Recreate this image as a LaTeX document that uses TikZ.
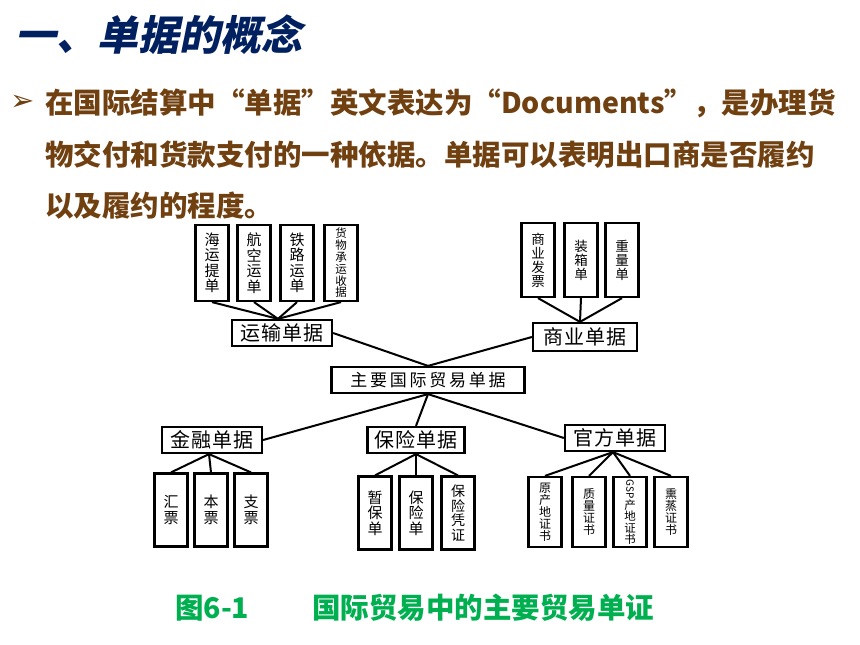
\documentclass[tikz,border=0pt]{standalone}
\usepackage{fontspec}
\newfontfamily\cjk{Noto Sans CJK SC}
\newfontfamily\cjkslant[FakeSlant=0.2]{Noto Sans CJK SC}
\newfontfamily\cjkwide[LetterSpace=16]{Noto Sans CJK SC}
\newfontfamily\cjkmid[LetterSpace=6]{Noto Sans CJK SC}
\newfontfamily\symb{DejaVu Sans}
\definecolor{titleblue}{RGB}{0,32,96}
\definecolor{textbrown}{RGB}{112,64,16}
\definecolor{capgreen}{RGB}{0,176,80}

\begin{document}
\begin{tikzpicture}[x=1pt,y=-1pt
,vbox/.style={draw,line width=2.2pt,minimum width=33pt,minimum height=75pt,inner sep=0pt,align=center,font=\cjk\fontsize{15}{15.5}\selectfont}
,hbox/.style={draw,line width=2.2pt,minimum width=100pt,minimum height=26pt,inner sep=0pt,font=\cjkmid\fontsize{20}{20}\selectfont}
,link/.style={line width=2pt}
,bodytext/.style={anchor=west,inner sep=0pt,text=textbrown,font=\cjk\bfseries\fontsize{28.5}{30}\selectfont}
]
\useasboundingbox (0,0) rectangle (860,645);
% heading and text
\node (title) at (15,35)[anchor=west,inner sep=0pt,text=titleblue,font=\cjkslant\bfseries\fontsize{41}{44}\selectfont]{一、单据的概念};
\node (bullet) at (10,103)[anchor=west,inner sep=0pt,text=textbrown,font=\symb\bfseries\fontsize{29}{30}\selectfont]{➢};
\node (line1) at (45,103)[bodytext]{在国际结算中“单据”英文表达为“Documents”，是办理货};
\node (line2) at (45,155)[bodytext]{物交付和货款支付的一种依据。单据可以表明出口商是否履约};
\node (line3) at (45,206)[bodytext]{以及履约的程度。};
% top left
\node (haiyun) at (212,263)[vbox,minimum height=76pt]{海\\运\\提\\单};
\node (hangkong) at (254,263)[vbox,minimum height=76pt]{航\\空\\运\\单};
\node (tielu) at (297,263)[vbox,minimum height=76pt]{铁\\路\\运\\单};
\node (huowu) at (341,263)[vbox,minimum height=76pt,font=\cjk\fontsize{11.5}{11.8}\selectfont]{货\\物\\承\\运\\收\\据};
\node (yunshu) at (282,333)[hbox]{运输单据};
% top right
\node (fapiao) at (538,260)[vbox,minimum height=74pt,font=\cjk\fontsize{13.5}{14}\selectfont]{商\\业\\发\\票};
\node (zhuangxiang) at (581,260)[vbox,minimum height=74pt,font=\cjk\fontsize{13.5}{14}\selectfont]{装\\箱\\单};
\node (zhongliang) at (622,260)[vbox,minimum height=74pt,font=\cjk\fontsize{13.5}{14}\selectfont]{重\\量\\单};
\node (shangye) at (585,337)[hbox,minimum width=104pt,minimum height=28pt]{商业单据};
% main
\node (main) at (428,380)[hbox,minimum width=193pt,font=\cjkwide\fontsize{17}{18}\selectfont]{主要国际贸易单据};
% bottom row
\node (jinrong) at (212,440)[hbox]{金融单据};
\node (baoxian) at (416,440)[hbox,minimum width=97pt]{保险单据};
\node (guanfang) at (615,438)[hbox]{官方单据};
\node (huipiao) at (171,510)[vbox,minimum height=73pt]{汇\\票};
\node (benpiao) at (211,510)[vbox,minimum height=73pt]{本\\票};
\node (zhipiao) at (251,510)[vbox,minimum height=73pt]{支\\票};
\node (zanbao) at (375,513)[vbox,minimum height=73pt]{暂\\保\\单};
\node (baodan) at (416,513)[vbox,minimum height=73pt]{保\\险\\单};
\node (pingzheng) at (458,513)[vbox,minimum height=73pt,font=\cjk\fontsize{14}{14.5}\selectfont]{保\\险\\凭\\证};
\node (yuanchan) at (545,512)[vbox,minimum height=70pt,font=\cjk\fontsize{12}{12}\selectfont]{原\\产\\地\\证\\书};
\node (zhiliang) at (589,512)[vbox,minimum height=70pt,font=\cjk\fontsize{12}{12}\selectfont]{质\\量\\证\\书};
\node (gsp) at (630,512)[vbox,minimum height=70pt,font=\cjk\fontsize{11.5}{11.5}\selectfont]{\rotatebox{-90}{\fontsize{10}{10}\selectfont GSP}\\产\\地\\证\\书};
\node (xunzheng) at (671,512)[vbox,minimum height=70pt,font=\cjk\fontsize{12}{12}\selectfont]{熏\\蒸\\证\\书};
% caption
\node (capnum) at (175,608)[anchor=west,inner sep=0pt,text=capgreen,font=\cjk\bfseries\fontsize{28.5}{30}\selectfont]{图6-1};
\node (captext) at (312,608)[anchor=west,inner sep=0pt,text=capgreen,font=\cjk\bfseries\fontsize{28.5}{30}\selectfont]{国际贸易中的主要贸易单证};
% connectors
\draw[link] (haiyun.south) -- ([xshift=-4pt]yunshu.north);
\draw[link] (hangkong.south) -- ([xshift=-4pt]yunshu.north);
\draw[link] (tielu.south) -- ([xshift=-4pt]yunshu.north);
\draw[link] (huowu.south) -- ([xshift=-4pt]yunshu.north);
\draw[link] (fapiao.south) -- ([xshift=-5pt]shangye.north);
\draw[link] (zhuangxiang.south) -- ([xshift=-5pt]shangye.north);
\draw[link] (zhongliang.south) -- ([xshift=-5pt]shangye.north);
\draw[link] (yunshu.east) -- (main.north);
\draw[link] (shangye.west) -- (main.north);
\draw[link] (main.south) -- (jinrong.east);
\draw[link] (main.south) -- (baoxian.north);
\draw[link] (main.south) -- (guanfang.west);
\draw[link] ([xshift=-3pt]jinrong.south) -- (huipiao.north);
\draw[link] ([xshift=-3pt]jinrong.south) -- (benpiao.north);
\draw[link] ([xshift=-3pt]jinrong.south) -- (zhipiao.north);
\draw[link] (baoxian.south) -- (zanbao.north);
\draw[link] (baoxian.south) -- (baodan.north);
\draw[link] (baoxian.south) -- (pingzheng.north);
\draw[link] ([xshift=-2pt]guanfang.south) -- (yuanchan.north);
\draw[link] ([xshift=-2pt]guanfang.south) -- (zhiliang.north);
\draw[link] ([xshift=-2pt]guanfang.south) -- (gsp.north);
\draw[link] ([xshift=-2pt]guanfang.south) -- (xunzheng.north);
\end{tikzpicture}
\end{document}
